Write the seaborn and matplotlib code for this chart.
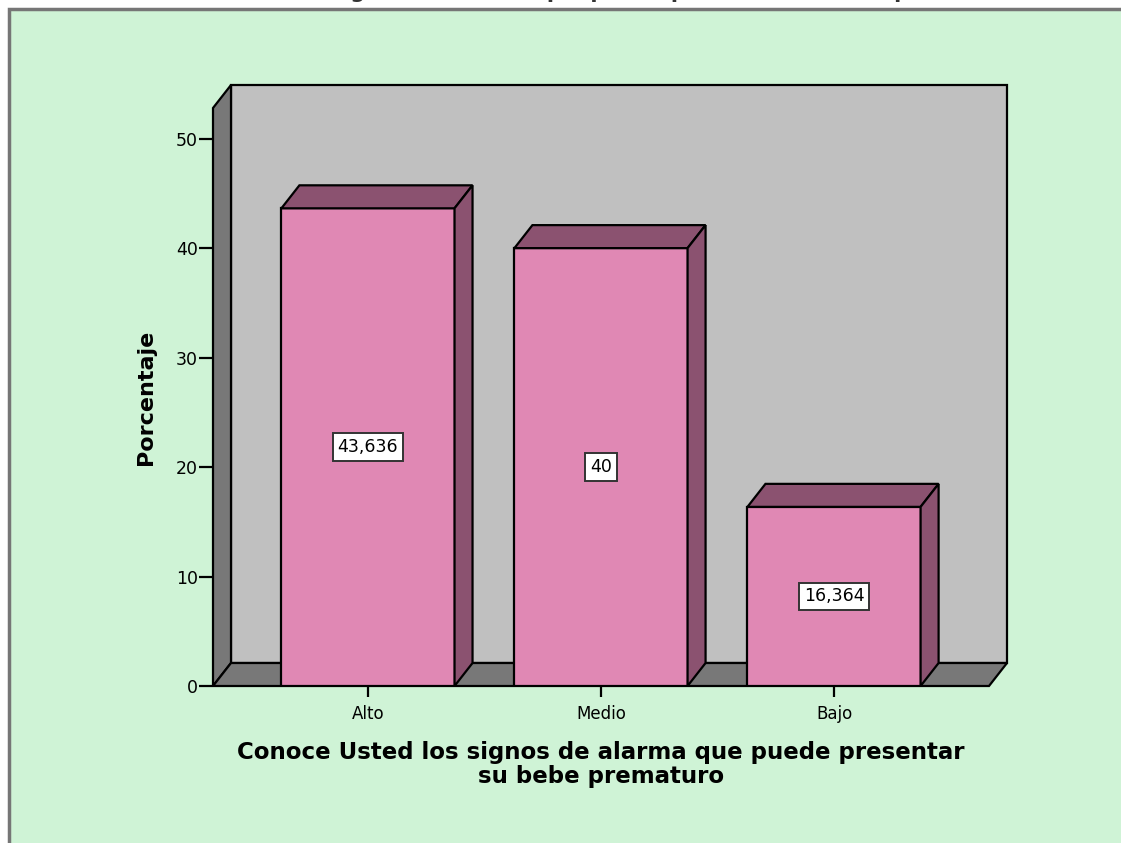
import matplotlib
matplotlib.use("Agg")
import matplotlib.pyplot as plt
import seaborn as sns
import pandas as pd
from matplotlib.patches import Polygon, Rectangle

# Datos
categorias = ["Alto", "Medio", "Bajo"]
porcentajes = [43.636, 40.0, 16.364]
etiquetas = ["43,636", "40", "16,364"]
marcas_y = [0, 10, 20, 30, 40, 50]
titulo_eje_x = "Conoce Usted los signos de alarma que puede presentar\nsu bebe prematuro"
titulo = "Conoce Usted los signos de alarma que puede presentar su bebe prematuro"

sns.set_theme(style="white")
plt.rcParams["font.family"] = ["DejaVu Sans"]
plt.rcParams["text.color"] = "black"
plt.rcParams["axes.labelcolor"] = "black"

W, H = 1121, 843
fig = plt.figure(figsize=(W / 100, H / 100), dpi=100)
fig.patch.set_facecolor("white")

# Panel verde con borde gris
fig.add_artist(Rectangle((9 / W, -0.02), 1.05, 1 - 9 / H + 0.02,
                         transform=fig.transFigure, facecolor="#CFF3D6",
                         edgecolor="#767676", lw=2.5, zorder=0))

# Título cortado en el borde superior
fig.text(570 / W, 1 + 2.0 / H, titulo, ha="center", va="baseline",
         fontsize=15, fontweight="bold", color="#333333")

ax = fig.add_axes([213 / W, (H - 686) / H, 776 / W, 578 / H])
ax.patch.set_alpha(0)

rosa = "#E088B4"
oscuro = "#8B5270"
muro = "#C0C0C0"
suelo = "#787878"

df = pd.DataFrame({"cat": categorias, "pct": porcentajes})
sns.barplot(data=df, x="cat", y="pct", order=categorias, color=rosa, saturation=1,
            width=0.743, edgecolor="black", linewidth=1.6, ax=ax, zorder=3)

x0, x1 = -0.665, 2.665
y0, y1 = 0.0, 52.8
ax.set_xlim(x0, x1)
ax.set_ylim(y0, y1)

# Profundidad del efecto 3D (en unidades de datos)
dx = 18 / (776 / (x1 - x0))
dy = 23 / (578 / (y1 - y0))

borde = dict(edgecolor="black", lw=1.6, joinstyle="miter", clip_on=False)

# Pared del fondo, pared izquierda y suelo
ax.add_patch(Polygon([(x0 + dx, dy), (x1 + dx, dy), (x1 + dx, y1 + dy), (x0 + dx, y1 + dy)],
                     facecolor=muro, zorder=0.5, **borde))
ax.add_patch(Polygon([(x0, 0), (x0 + dx, dy), (x0 + dx, y1 + dy), (x0, y1)],
                     facecolor=suelo, zorder=0.6, **borde))
ax.add_patch(Polygon([(x0, 0), (x1, 0), (x1 + dx, dy), (x0 + dx, dy)],
                     facecolor=suelo, zorder=0.6, **borde))

barras = [p for p in ax.patches if p.get_facecolor()[:3] == matplotlib.colors.to_rgb(rosa)]
for p, txt in zip(barras, etiquetas):
    x, w, h = p.get_x(), p.get_width(), p.get_height()
    ax.add_patch(Polygon([(x, h), (x + w, h), (x + w + dx, h + dy), (x + dx, h + dy)],
                         facecolor=oscuro, zorder=3, **borde))
    ax.add_patch(Polygon([(x + w, 0), (x + w + dx, dy), (x + w + dx, h + dy), (x + w, h)],
                         facecolor=oscuro, zorder=3, **borde))
    ax.text(x + w / 2, h / 2, txt, ha="center", va="center", fontsize=12.5, zorder=5,
            bbox=dict(boxstyle="square,pad=0.28", facecolor="white",
                      edgecolor="#333333", lw=1.4))

for s in ax.spines.values():
    s.set_visible(False)

ax.set_yticks(marcas_y)
ax.set_yticklabels([str(v) for v in marcas_y])
ax.tick_params(axis="y", direction="out", length=10, width=1.6, pad=1,
               labelsize=12.5, left=True, colors="black")
ax.tick_params(axis="x", direction="out", length=8, width=1.6, pad=6,
               labelsize=12, bottom=True, colors="black")

ax.set_xlabel(titulo_eje_x, fontsize=16.5, fontweight="bold", labelpad=13,
              linespacing=1.0)
ax.set_ylabel("Porcentaje", fontsize=16, fontweight="bold", labelpad=14)

fig.savefig("out.png", dpi=100)
